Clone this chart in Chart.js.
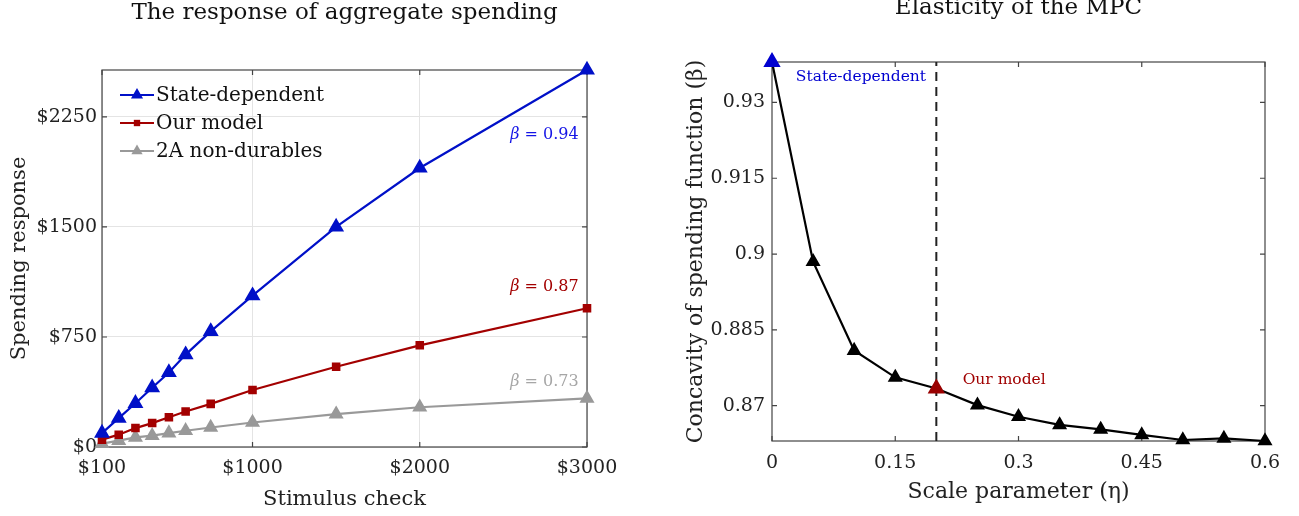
<!DOCTYPE html>
<html>
<head>
<meta charset="utf-8">
<script src="https://cdn.jsdelivr.net/npm/chart.js@4.4.1/dist/chart.umd.min.js"></script>
<style>
  body { margin: 0; background: #fff; }
  .box { position: absolute; top: 0; height: 516px; }
  #leftBox { left: 0; width: 650px; }
  #rightBox { left: 650px; width: 649px; }
</style>
</head>
<body>
<div class="box" id="leftBox"><canvas id="spending"></canvas></div>
<div class="box" id="rightBox"><canvas id="elasticity"></canvas></div>
<script>
// left panel: spending response by check size
const checks = [100, 200, 300, 400, 500, 600, 750, 1000, 1500, 2000, 3000];
const stateDependent = [95, 197, 298, 404, 508, 630, 788, 1032, 1500, 1902, 2570];
const ourModel = [50, 84, 129, 163, 203, 242, 294, 389, 547, 693, 946];
const twoAsset = [23, 43, 66, 77, 95, 111, 133, 167, 224, 271, 332];
const checkTicks = [100, 1000, 2000, 3000];
const spendTicks = [0, 750, 1500, 2250];

// right panel: concavity vs scale parameter
const eta = [0, 0.05, 0.1, 0.15, 0.2, 0.25, 0.3, 0.35, 0.4, 0.45, 0.5, 0.55, 0.6];
const beta = [0.938, 0.8985, 0.8809, 0.8756, 0.8734, 0.8701, 0.8678, 0.8662, 0.8653, 0.8642, 0.8632, 0.8635, 0.8630];
const etaTicks = [0, 0.15, 0.3, 0.45, 0.6];
const betaTicks = [0.87, 0.885, 0.9, 0.915, 0.93];
const ourEta = 0.2;

const SERIF = '"DejaVu Serif", "Liberation Serif", serif';
const BLUE = '#0010c8', RED = '#a30000', GRAY = '#999999';

function pts(xs, ys) {
    return xs.map((x, i) => ({x: x, y: ys[i]}));
}

// box with inward ticks, like matlab "box on"
const framePlugin = {
    id: 'frame',
    beforeDatasetsDraw(chart) {
        const {ctx, chartArea: a, scales} = chart;
        ctx.save();
        ctx.strokeStyle = '#444';
        ctx.lineWidth = 1.2;
        ctx.strokeRect(a.left, a.top, a.right - a.left, a.bottom - a.top);
        ctx.beginPath();
        scales.x.ticks.forEach(t => {
            const px = scales.x.getPixelForValue(t.value);
            ctx.moveTo(px, a.bottom); ctx.lineTo(px, a.bottom - 5);
            ctx.moveTo(px, a.top); ctx.lineTo(px, a.top + 5);
        });
        scales.y.ticks.forEach(t => {
            const py = scales.y.getPixelForValue(t.value);
            ctx.moveTo(a.left, py); ctx.lineTo(a.left + 5, py);
            ctx.moveTo(a.right, py); ctx.lineTo(a.right - 5, py);
        });
        ctx.stroke();
        ctx.restore();
    }
};

// title + text notes
const notesPlugin = {
    id: 'notes',
    afterDraw(chart, args, opts) {
        const {ctx, chartArea: a, scales} = chart;
        ctx.save();
        ctx.fillStyle = '#111';
        ctx.font = '23px ' + SERIF;
        ctx.textAlign = 'center';
        ctx.textBaseline = 'middle';
        ctx.fillText(opts.title, (a.left + a.right) / 2, opts.titleY);
        (opts.notes || []).forEach(n => {
            const px = scales.x.getPixelForValue(n.x);
            const py = scales.y.getPixelForValue(n.y);
            ctx.fillStyle = n.color;
            ctx.font = n.size + 'px ' + SERIF;
            if (n.beta) {
                // beta in italic, rest upright, right aligned
                ctx.textAlign = 'right';
                ctx.fillText(' = ' + n.text, px, py);
                const w = ctx.measureText(' = ' + n.text).width;
                ctx.font = 'italic ' + n.size + 'px ' + SERIF;
                ctx.fillText('β', px - w, py);
            } else {
                ctx.textAlign = n.align || 'left';
                ctx.fillText(n.text, px, py);
            }
        });
        ctx.restore();
    }
};

// legend inside the upper left of the plot
const legendPlugin = {
    id: 'boxLegend',
    afterDraw(chart, args, opts) {
        if (!opts.show) return;
        const {ctx, chartArea: a} = chart;
        ctx.save();
        ctx.font = '20px ' + SERIF;
        ctx.textBaseline = 'middle';
        chart.data.datasets.forEach((ds, i) => {
            const y = a.top + 25 + i * 28;
            const x0 = a.left + 18;
            ctx.strokeStyle = ds.borderColor;
            ctx.lineWidth = 2;
            ctx.beginPath();
            ctx.moveTo(x0, y); ctx.lineTo(x0 + 34, y);
            ctx.stroke();
            ctx.fillStyle = ds.borderColor;
            Chart.helpers.drawPoint(ctx, {pointStyle: ds.pointStyle, radius: ds.pointRadius, borderWidth: 0}, x0 + 17, y);
            ctx.fillStyle = '#111';
            ctx.fillText(ds.label, x0 + 36, y + 1);
        });
        ctx.restore();
    }
};

Chart.register(framePlugin, notesPlugin, legendPlugin);

const tickFont = {family: SERIF, size: 19};
const leftTitleFont = {family: SERIF, size: 21, lineHeight: 1};
const rightTitleFont = {family: SERIF, size: 22, lineHeight: 1};

new Chart(document.getElementById('spending'), {
    type: 'line',
    data: {
        datasets: [
            {label: 'State-dependent', data: pts(checks, stateDependent), borderColor: BLUE, backgroundColor: BLUE,
             borderWidth: 2.2, pointStyle: 'triangle', pointRadius: 7, clip: false},
            {label: 'Our model', data: pts(checks, ourModel), borderColor: RED, backgroundColor: RED,
             borderWidth: 2.2, pointStyle: 'rect', pointRadius: 4.5, clip: false},
            {label: '2A non-durables', data: pts(checks, twoAsset), borderColor: GRAY, backgroundColor: GRAY,
             borderWidth: 2.2, pointStyle: 'triangle', pointRadius: 6.5, clip: false}
        ]
    },
    options: {
        responsive: true,
        maintainAspectRatio: false,
        animation: false,
        devicePixelRatio: 1,
        layout: {padding: {top: 70, right: 63, left: 0, bottom: 0}},
        elements: {line: {tension: 0}, point: {borderWidth: 0}},
        plugins: {
            legend: {display: false},
            tooltip: {enabled: false},
            boxLegend: {show: true},
            notes: {
                title: 'The response of aggregate spending',
                titleY: 13,
                notes: [
                    {text: '0.94', beta: true, x: 2950, y: 2128, color: '#1414e6', size: 16},
                    {text: '0.87', beta: true, x: 2950, y: 1089, color: RED, size: 16},
                    {text: '0.73', beta: true, x: 2950, y: 445, color: '#a6a6a6', size: 16}
                ]
            }
        },
        scales: {
            x: {
                type: 'linear', min: 100, max: 3000,
                afterFit: s => { s.height = 69; },
                afterBuildTicks: s => { s.ticks = checkTicks.map(v => ({value: v})); },
                grid: {color: '#e4e4e4', drawTicks: false},
                border: {display: false},
                ticks: {font: tickFont, color: '#222', padding: 10, maxRotation: 0, autoSkip: false,
                        callback: v => '$' + v},
                title: {display: true, text: 'Stimulus check', font: leftTitleFont, color: '#222', padding: {top: 0, bottom: 6}}
            },
            y: {
                type: 'linear', min: 0, max: 2570,
                afterFit: s => { s.width = 102; },
                afterBuildTicks: s => { s.ticks = spendTicks.map(v => ({value: v})); },
                grid: {color: '#e4e4e4', drawTicks: false},
                border: {display: false},
                ticks: {font: tickFont, color: '#222', padding: 5, callback: v => '$' + v},
                title: {display: true, text: 'Spending response', font: leftTitleFont, color: '#222', padding: {top: 9, bottom: 0}}
            }
        }
    }
});

new Chart(document.getElementById('elasticity'), {
    type: 'line',
    data: {
        datasets: [
            {label: 'State-dependent', data: pts([eta[0]], [beta[0]]), showLine: false, backgroundColor: '#0000d0',
             pointStyle: 'triangle', pointRadius: 10, clip: false},
            {label: 'Our model', data: pts([ourEta], [beta[eta.indexOf(ourEta)]]), showLine: false, backgroundColor: '#9a0000',
             pointStyle: 'triangle', pointRadius: 10, clip: false},
            {label: 'beta', data: pts(eta, beta), borderColor: '#000', backgroundColor: '#000', borderWidth: 2.2,
             pointStyle: 'triangle', pointRadius: 6.5, clip: false},
            {label: 'marker', data: pts([ourEta, ourEta], [0.863, 0.938]), borderColor: '#222', borderWidth: 2,
             borderDash: [9, 6], pointRadius: 0}
        ]
    },
    options: {
        responsive: true,
        maintainAspectRatio: false,
        animation: false,
        devicePixelRatio: 1,
        layout: {padding: {top: 62, right: 34, left: 0, bottom: 0}},
        elements: {line: {tension: 0}, point: {borderWidth: 0}},
        plugins: {
            legend: {display: false},
            tooltip: {enabled: false},
            boxLegend: {show: false},
            notes: {
                title: 'Elasticity of the MPC',
                titleY: 8,
                notes: [
                    {text: 'State-dependent', x: 0.029, y: 0.9351, color: '#0000d0', size: 15.5},
                    {text: 'Our model', x: 0.232, y: 0.8751, color: '#a00000', size: 15.5}
                ]
            }
        },
        scales: {
            x: {
                type: 'linear', min: 0, max: 0.6,
                afterFit: s => { s.height = 75; },
                afterBuildTicks: s => { s.ticks = etaTicks.map(v => ({value: v})); },
                grid: {display: false, drawTicks: false},
                border: {display: false},
                ticks: {font: tickFont, color: '#222', padding: 11, maxRotation: 0, autoSkip: false,
                        callback: v => String(Number(v.toFixed(3)))},
                title: {display: true, text: 'Scale parameter (η)', font: rightTitleFont, color: '#222', padding: {top: 0, bottom: 13}}
            },
            y: {
                type: 'linear', min: 0.863, max: 0.938,
                afterFit: s => { s.width = 122; },
                afterBuildTicks: s => { s.ticks = betaTicks.map(v => ({value: v})); },
                grid: {display: false, drawTicks: false},
                border: {display: false},
                ticks: {font: tickFont, color: '#222', padding: 7, callback: v => String(Number(v.toFixed(3)))},
                title: {display: true, text: 'Concavity of spending function (β)', font: rightTitleFont, color: '#222', padding: {top: 35, bottom: 0}}
            }
        }
    }
});
</script>
</body>
</html>
